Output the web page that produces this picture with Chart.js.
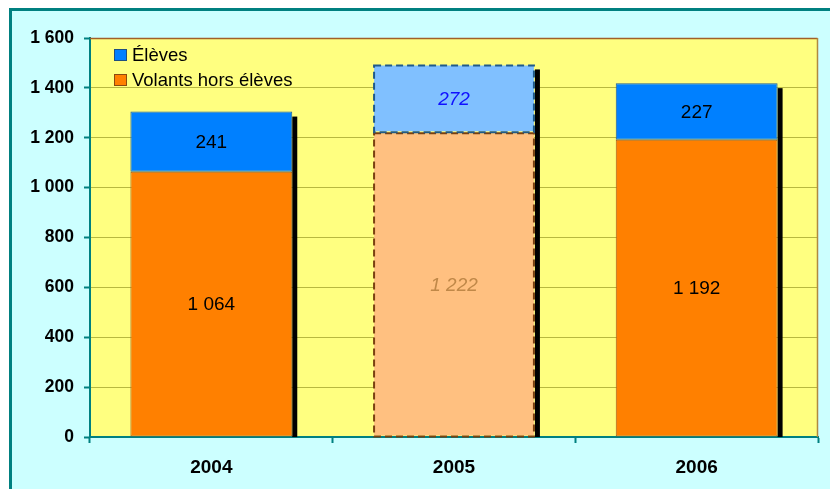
<!DOCTYPE html>
<html>
<head>
<meta charset="utf-8">
<script src="https://cdn.jsdelivr.net/npm/chart.js@4.4.1/dist/chart.umd.min.js"></script>
<style>
html,body{margin:0;padding:0;background:#fff;}
#wrap{width:830px;height:489px;position:relative;}
</style>
</head>
<body>
<div id="wrap"><canvas id="c" width="830" height="489"></canvas></div>
<script>
const years = ['2004', '2005', '2006'];
const eleves = [241, 272, 227];
const volants = [1064, 1222, 1192];
const yMin = 0, yMax = 1600, yStep = 200;
const labelEleves = 'Élèves';
const labelVolants = 'Volants hors élèves';

const FONT = "'Liberation Sans', Arial, sans-serif";
const fmt = v => String(v).replace(/\B(?=(\d{3})+(?!\d))/g, ' ');

const estimated = [false, true, false];
const blueFill = years.map((y, i) => estimated[i] ? '#80C0FF' : '#0080FF');
const orangeFill = years.map((y, i) => estimated[i] ? '#FFC080' : '#FF8000');
const blueBorder = years.map((y, i) => estimated[i] ? 'rgba(0,0,0,0)' : '#1F5C99');
const orangeBorder = years.map((y, i) => estimated[i] ? 'rgba(0,0,0,0)' : '#A05A1E');

const bgPlugin = {
  id: 'bg',
  beforeDraw(chart) {
    const ctx = chart.ctx, a = chart.chartArea;
    ctx.save();
    ctx.fillStyle = '#fff';
    ctx.fillRect(0, 0, chart.width, chart.height);
    ctx.fillStyle = '#CCFFFF';
    ctx.fillRect(10, 9, chart.width, chart.height);
    ctx.strokeStyle = '#008080';
    ctx.lineWidth = 3;
    ctx.beginPath();
    ctx.moveTo(10.5, chart.height + 5);
    ctx.lineTo(10.5, 9.5);
    ctx.lineTo(chart.width + 5, 9.5);
    ctx.stroke();
    ctx.fillStyle = '#FFFF80';
    ctx.fillRect(a.left, a.top, a.right - a.left, a.bottom - a.top);
    ctx.restore();
  },
  afterDraw(chart) {
    const ctx = chart.ctx, a = chart.chartArea;
    ctx.save();
    ctx.strokeStyle = '#A0602A';
    ctx.lineWidth = 1.5;
    ctx.beginPath();
    ctx.moveTo(a.left, a.top + 0.5);
    ctx.lineTo(a.right - 0.5, a.top + 0.5);
    ctx.stroke();
    ctx.strokeStyle = '#B08840';
    ctx.beginPath();
    ctx.moveTo(a.right - 0.5, a.top);
    ctx.lineTo(a.right - 0.5, a.bottom);
    ctx.stroke();
    // legend
    const items = [
      {text: chart.data.datasets[1].label, fill: blueFill[0], stroke: '#1F4F80'},
      {text: chart.data.datasets[0].label, fill: orangeFill[0], stroke: '#8A4A10'}
    ];
    ctx.font = '18.5px ' + FONT;
    ctx.textBaseline = 'middle';
    ctx.textAlign = 'left';
    items.forEach((it, i) => {
      const y = 49 + i * 25;
      ctx.fillStyle = it.fill;
      ctx.fillRect(114.5, y + 0.5, 12, 11);
      ctx.strokeStyle = it.stroke;
      ctx.lineWidth = 1;
      ctx.strokeRect(114.5, y + 0.5, 12, 11);
      ctx.fillStyle = '#000';
      ctx.fillText(it.text, 132, y + 6.5);
    });
    ctx.restore();
  }
};

const shadowPlugin = {
  id: 'shadow',
  beforeDatasetsDraw(chart) {
    const ctx = chart.ctx;
    const top = chart.getDatasetMeta(1).data;
    const base = chart.scales.y.getPixelForValue(0);
    ctx.save();
    ctx.fillStyle = '#000';
    top.forEach(el => {
      const p = el.getProps(['x', 'y', 'width'], true);
      const right = p.x + p.width / 2;
      ctx.fillRect(right, p.y + 5, 5, base - p.y - 5);
    });
    ctx.restore();
  }
};

const labelPlugin = {
  id: 'labels',
  afterDatasetsDraw(chart) {
    const ctx = chart.ctx;
    ctx.save();
    chart.data.datasets.forEach((ds, di) => {
      const meta = chart.getDatasetMeta(di);
      meta.data.forEach((el, i) => {
        if (!estimated[i]) return;
        const p = el.getProps(['x', 'y', 'base', 'width'], true);
        const l = p.x - p.width / 2, r = p.x + p.width / 2;
        ctx.setLineDash([7, 4]);
        ctx.lineWidth = 2;
        ctx.strokeStyle = di === 1 ? '#1F5A8A' : '#7A4010';
        ctx.strokeRect(l + 1, p.y + 1, r - l - 2, p.base - p.y - 1);
        ctx.setLineDash([]);
      });
    });
    chart.data.datasets.forEach((ds, di) => {
      const meta = chart.getDatasetMeta(di);
      meta.data.forEach((el, i) => {
        const p = el.getProps(['x', 'y', 'base'], true);
        const cy = (p.y + p.base) / 2;
        ctx.textAlign = 'center';
        ctx.textBaseline = 'middle';
        if (estimated[i]) {
          ctx.font = 'italic 19px ' + FONT;
          ctx.fillStyle = di === 1 ? '#1010FF' : '#C08848';
        } else {
          ctx.font = '19px ' + FONT;
          ctx.fillStyle = '#000';
        }
        ctx.fillText(fmt(ds.data[i]), p.x, cy + 1);
      });
    });
    ctx.restore();
  }
};

new Chart(document.getElementById('c'), {
  type: 'bar',
  data: {
    labels: years,
    datasets: [
      {label: labelVolants, data: volants, backgroundColor: orangeFill, borderColor: orangeBorder, borderWidth: 1, borderSkipped: false, barPercentage: 0.667, categoryPercentage: 1},
      {label: labelEleves, data: eleves, backgroundColor: blueFill, borderColor: blueBorder, borderWidth: 1, borderSkipped: false, barPercentage: 0.667, categoryPercentage: 1}
    ]
  },
  options: {
    responsive: false,
    animation: false,
    devicePixelRatio: 1,
    layout: {padding: {top: 38, right: 12, left: 0, bottom: 0}},
    plugins: {legend: {display: false}, tooltip: {enabled: false}},
    scales: {
      x: {
        stacked: true,
        grid: {drawOnChartArea: false, drawTicks: true, tickLength: 6, tickColor: '#008080', tickWidth: 2, offset: true},
        border: {color: '#008080', width: 2},
        ticks: {font: {family: FONT, size: 19, weight: 'bold'}, color: '#000', padding: 13},
        afterFit(s) { s.height = 52; }
      },
      y: {
        stacked: true,
        min: yMin, max: yMax,
        ticks: {stepSize: yStep, callback: v => fmt(v), font: {family: FONT, size: 17.5, weight: 'bold'}, color: '#000', padding: 10},
        grid: {color: '#B8B840', lineWidth: 1, tickColor: '#008080', tickLength: 6, tickWidth: 2},
        border: {color: '#008080', width: 2},
        afterFit(s) { s.width = 90; }
      }
    }
  },
  plugins: [bgPlugin, shadowPlugin, labelPlugin]
});
</script>
</body>
</html>
